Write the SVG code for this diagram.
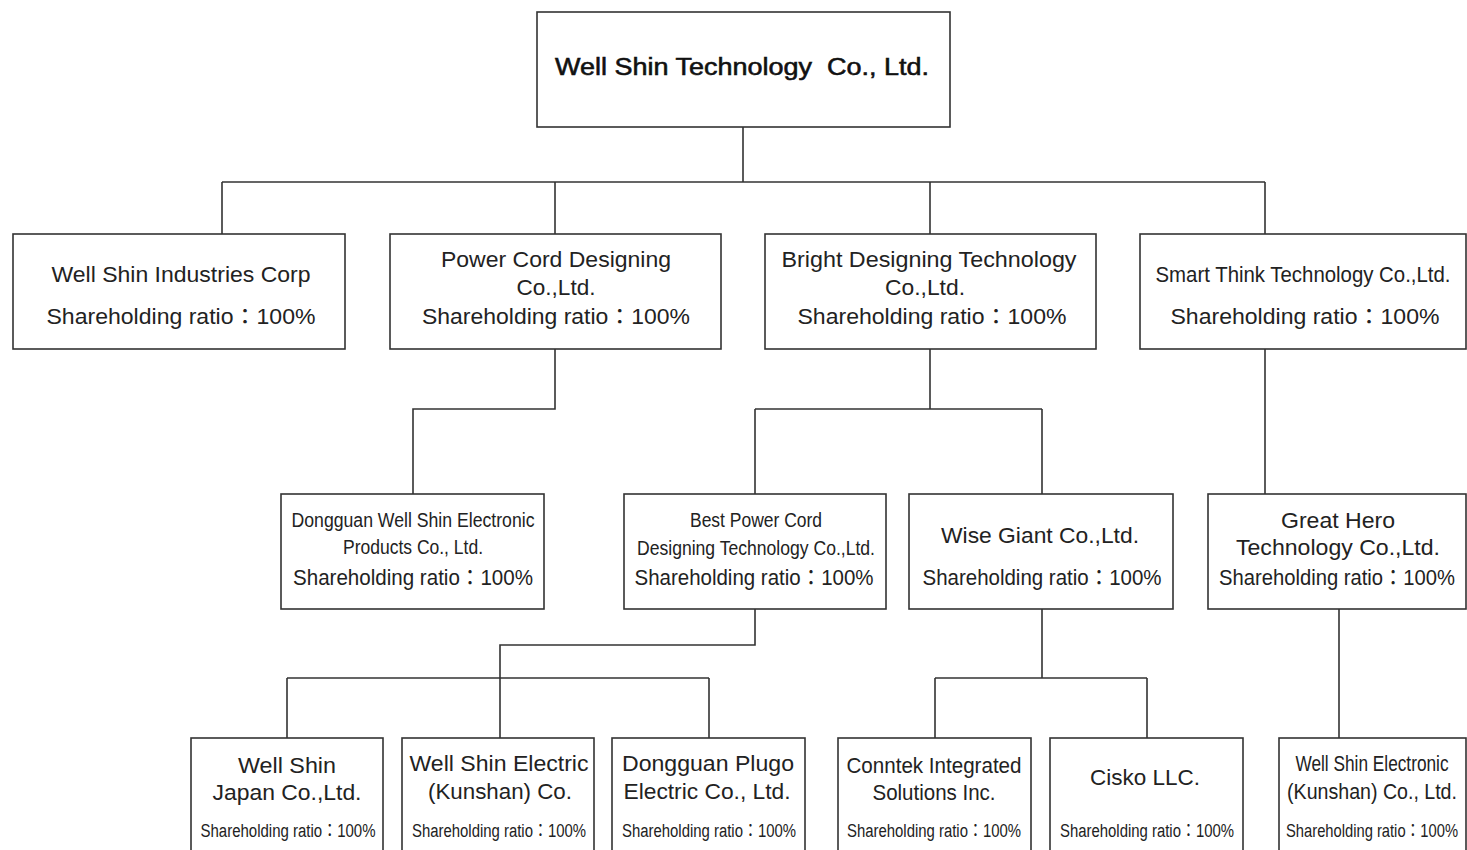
<svg xmlns="http://www.w3.org/2000/svg" width="1467" height="850" viewBox="0 0 1467 850">
<style>
.box{fill:#fff;stroke:#333;stroke-width:1.6}
.ln{fill:none;stroke:#333;stroke-width:1.6}
text{font-family:"Liberation Sans",Arial,"Noto Sans CJK TC",sans-serif;fill:#222;text-anchor:middle}
.root{font-size:23px;fill:#111;stroke:#111;stroke-width:0.55}
.t1{font-size:22px}
.t2{font-size:20px}
.t3{font-size:18px}
</style>
<rect width="1467" height="850" fill="#fff"/>
<g id="connectors">
<path class="ln" d="M743 127V182M222 182H1265M222 182V234M555 182V234M930 182V234M1265 182V234"/>
<path class="ln" d="M555 349V409H413V494"/>
<path class="ln" d="M930 349V409M755 409H1042M755 409V494M1042 409V494"/>
<path class="ln" d="M1265 349V494"/>
<path class="ln" d="M755 609V645H500V678M287 678H709M287 678V738M500 678V738M709 678V738"/>
<path class="ln" d="M1042 609V678M935 678H1147M935 678V738M1147 678V738"/>
<path class="ln" d="M1339 609V738"/>
</g>
<g id="root">
<rect class="box" x="537" y="12" width="413" height="115"/>
<text class="root" x="742" y="75" textLength="374" lengthAdjust="spacingAndGlyphs" xml:space="preserve">Well Shin Technology  Co., Ltd.</text>
</g>
<g id="well-shin-industries">
<rect class="box" x="13" y="234" width="332" height="115"/>
<text class="t1" x="181" y="282" textLength="259" lengthAdjust="spacingAndGlyphs">Well Shin Industries Corp</text>
<text class="t1" x="181" y="324" textLength="269" lengthAdjust="spacingAndGlyphs">Shareholding ratio：100%</text>
</g>
<g id="power-cord-designing">
<rect class="box" x="390" y="234" width="331" height="115"/>
<text class="t1" x="556" y="267" textLength="230" lengthAdjust="spacingAndGlyphs">Power Cord Designing</text>
<text class="t1" x="556" y="295" textLength="79" lengthAdjust="spacingAndGlyphs">Co.,Ltd.</text>
<text class="t1" x="556" y="324" textLength="268" lengthAdjust="spacingAndGlyphs">Shareholding ratio：100%</text>
</g>
<g id="bright-designing">
<rect class="box" x="765" y="234" width="331" height="115"/>
<text class="t1" x="929" y="267" textLength="295" lengthAdjust="spacingAndGlyphs">Bright Designing Technology</text>
<text class="t1" x="925" y="295" textLength="80" lengthAdjust="spacingAndGlyphs">Co.,Ltd.</text>
<text class="t1" x="932" y="324" textLength="269" lengthAdjust="spacingAndGlyphs">Shareholding ratio：100%</text>
</g>
<g id="smart-think">
<rect class="box" x="1140" y="234" width="326" height="115"/>
<text class="t1" transform="translate(1303 282) scale(0.927 1)">Smart Think Technology Co.,Ltd.</text>
<text class="t1" x="1305" y="324" textLength="269" lengthAdjust="spacingAndGlyphs">Shareholding ratio：100%</text>
</g>
<g id="dongguan-well-shin">
<rect class="box" x="281" y="494" width="263" height="115"/>
<text class="t2" x="413" y="527" textLength="243" lengthAdjust="spacingAndGlyphs">Dongguan Well Shin Electronic</text>
<text class="t2" x="413" y="554" textLength="140" lengthAdjust="spacingAndGlyphs">Products Co., Ltd.</text>
<text class="t1" x="413" y="585" textLength="240" lengthAdjust="spacingAndGlyphs">Shareholding ratio：100%</text>
</g>
<g id="best-power-cord">
<rect class="box" x="624" y="494" width="262" height="115"/>
<text class="t2" x="756" y="527" textLength="132" lengthAdjust="spacingAndGlyphs">Best Power Cord</text>
<text class="t2" x="756" y="555" textLength="238" lengthAdjust="spacingAndGlyphs">Designing Technology Co.,Ltd.</text>
<text class="t1" x="754" y="585" textLength="239" lengthAdjust="spacingAndGlyphs">Shareholding ratio：100%</text>
</g>
<g id="wise-giant">
<rect class="box" x="909" y="494" width="264" height="115"/>
<text class="t1" x="1040" y="543" textLength="198" lengthAdjust="spacingAndGlyphs">Wise Giant Co.,Ltd.</text>
<text class="t1" x="1042" y="585" textLength="239" lengthAdjust="spacingAndGlyphs">Shareholding ratio：100%</text>
</g>
<g id="great-hero">
<rect class="box" x="1208" y="494" width="258" height="115"/>
<text class="t1" x="1338" y="528" textLength="114" lengthAdjust="spacingAndGlyphs">Great Hero</text>
<text class="t1" x="1338" y="555" textLength="204" lengthAdjust="spacingAndGlyphs">Technology Co.,Ltd.</text>
<text class="t1" transform="translate(1337 585) scale(0.919 1)">Shareholding ratio：100%</text>
</g>
<g id="well-shin-japan">
<rect class="box" x="191" y="738" width="192" height="130"/>
<text class="t1" x="287" y="773" textLength="98" lengthAdjust="spacingAndGlyphs">Well Shin</text>
<text class="t1" x="287" y="800" textLength="149" lengthAdjust="spacingAndGlyphs">Japan Co.,Ltd.</text>
<text class="t3" x="288" y="837" textLength="175" lengthAdjust="spacingAndGlyphs">Shareholding ratio：100%</text>
</g>
<g id="well-shin-electric-kunshan">
<rect class="box" x="402" y="738" width="192" height="130"/>
<text class="t1" x="499" y="771" textLength="179" lengthAdjust="spacingAndGlyphs">Well Shin Electric</text>
<text class="t1" x="500" y="799" textLength="144" lengthAdjust="spacingAndGlyphs">(Kunshan) Co.</text>
<text class="t3" x="499" y="837" textLength="174" lengthAdjust="spacingAndGlyphs">Shareholding ratio：100%</text>
</g>
<g id="dongguan-plugo">
<rect class="box" x="612" y="738" width="193" height="130"/>
<text class="t1" x="708" y="771" textLength="172" lengthAdjust="spacingAndGlyphs">Dongguan Plugo</text>
<text class="t1" x="707" y="799" textLength="167" lengthAdjust="spacingAndGlyphs">Electric Co., Ltd.</text>
<text class="t3" x="709" y="837" textLength="174" lengthAdjust="spacingAndGlyphs">Shareholding ratio：100%</text>
</g>
<g id="conntek">
<rect class="box" x="838" y="738" width="193" height="130"/>
<text class="t1" x="934" y="773" textLength="175" lengthAdjust="spacingAndGlyphs">Conntek Integrated</text>
<text class="t1" x="934" y="800" textLength="123" lengthAdjust="spacingAndGlyphs">Solutions Inc.</text>
<text class="t3" x="934" y="837" textLength="174" lengthAdjust="spacingAndGlyphs">Shareholding ratio：100%</text>
</g>
<g id="cisko">
<rect class="box" x="1050" y="738" width="193" height="130"/>
<text class="t1" x="1145" y="785" textLength="110" lengthAdjust="spacingAndGlyphs">Cisko LLC.</text>
<text class="t3" x="1147" y="837" textLength="174" lengthAdjust="spacingAndGlyphs">Shareholding ratio：100%</text>
</g>
<g id="well-shin-electronic-kunshan">
<rect class="box" x="1279" y="738" width="187" height="130"/>
<text class="t1" transform="translate(1372 771) scale(0.785 1)">Well Shin Electronic</text>
<text class="t1" transform="translate(1372 799) scale(0.891 1)">(Kunshan) Co., Ltd.</text>
<text class="t3" transform="translate(1372 837) scale(0.819 1)">Shareholding ratio：100%</text>
</g>
</svg>
